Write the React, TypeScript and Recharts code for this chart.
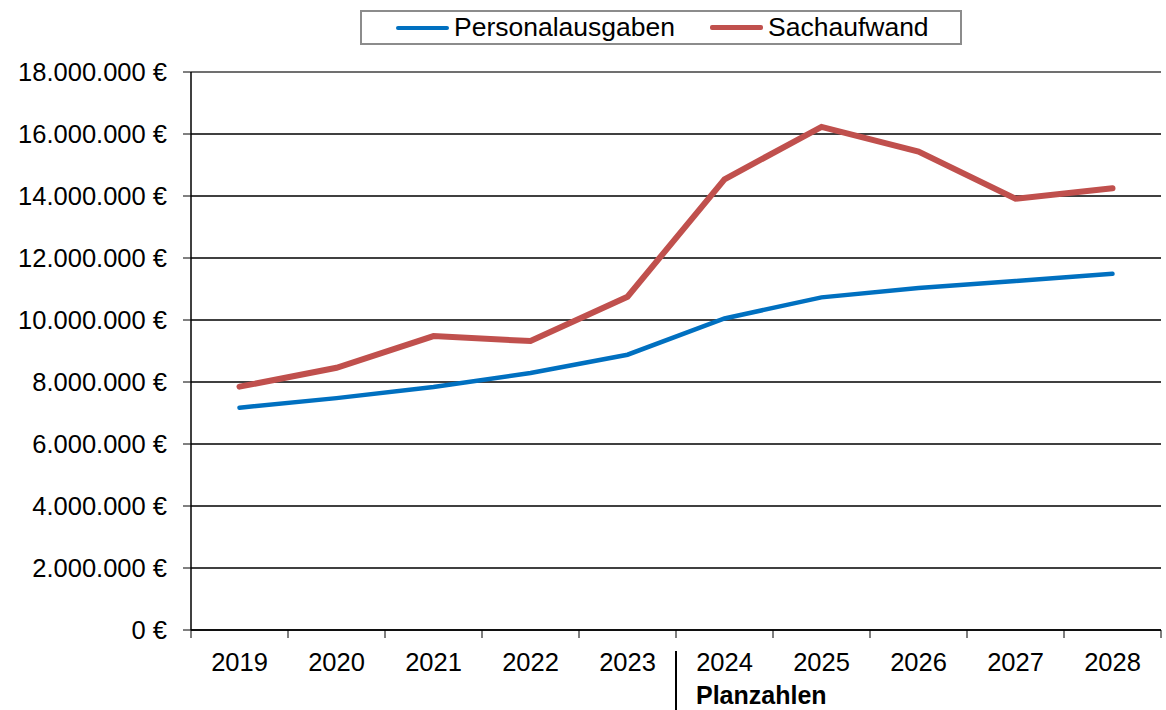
import React from 'react';
import {
  LineChart,
  Line,
  XAxis,
  YAxis,
  CartesianGrid,
  ReferenceLine,
} from 'recharts';

const YEARS = ['2019', '2020', '2021', '2022', '2023', '2024', '2025', '2026', '2027', '2028'];
const PERSONAL = [7170000, 7480000, 7840000, 8290000, 8880000, 10050000, 10730000, 11030000, 11260000, 11490000];
const SACH = [7850000, 8460000, 9480000, 9320000, 10750000, 14540000, 16230000, 15430000, 13910000, 14250000];
const Y_TICKS = [0, 2000000, 4000000, 6000000, 8000000, 10000000, 12000000, 14000000, 16000000, 18000000];
const SERIES_NAMES = ['Personalausgaben', 'Sachaufwand'];
const PLAN_START = '2024';
const PLAN_LABEL = 'Planzahlen';

const DATA = YEARS.map((year, i) => ({
  year,
  personal: PERSONAL[i],
  sach: SACH[i],
}));

const FONT = '"Liberation Sans", Arial, sans-serif';
const BLUE = '#0070C0';
const RED = '#C0504D';
const STEP = 97; // width of one category band in px

const fmtEuro = (v: number) =>
  `${String(v).replace(/\B(?=(\d{3})+(?!\d))/g, '.')} €`;

const XTick = (props: any) => {
  const { x, y, payload, index } = props;
  const half = STEP / 2;
  const isLast = index === YEARS.length - 1;
  return (
    <g>
      <line x1={x - half} y1={y} x2={x - half} y2={y + 8} stroke="#000" />
      {isLast && <line x1={x + half} y1={y} x2={x + half} y2={y + 8} stroke="#000" />}
      <text
        x={x}
        y={y + 41}
        textAnchor="middle"
        fontSize={25.5}
        fontFamily={FONT}
        fill="#000"
      >
        {payload.value}
      </text>
      {payload.value === PLAN_START && (
        <>
          <line
            x1={x - half}
            y1={y + 21}
            x2={x - half}
            y2={y + 82}
            stroke="#000"
            strokeWidth={2}
          />
          <text
            x={x - half + 20}
            y={y + 74}
            fontSize={25}
            fontWeight="bold"
            fontFamily={FONT}
            fill="#000"
          >
            {PLAN_LABEL}
          </text>
        </>
      )}
    </g>
  );
};

function LegendBox() {
  const items = [
    { name: SERIES_NAMES[0], color: BLUE, w: 4 },
    { name: SERIES_NAMES[1], color: RED, w: 5 },
  ];
  return (
    <div
      style={{
        position: 'absolute',
        left: 360,
        top: 10,
        width: 564,
        height: 31,
        border: '2px solid #8c8c8c',
        display: 'flex',
        alignItems: 'center',
        paddingLeft: 34,
        gap: 35,
        boxSizing: 'content-box',
        fontFamily: FONT,
        fontSize: 26.5,
        color: '#000',
        background: '#fff',
      }}
    >
      {items.map((it) => (
        <span key={it.name} style={{ display: 'flex', alignItems: 'center' }}>
          <span
            style={{
              display: 'inline-block',
              width: 53,
              height: it.w,
              borderRadius: 2,
              background: it.color,
              marginRight: 5,
            }}
          />
          {it.name}
        </span>
      ))}
    </div>
  );
}

export default function App() {
  return (
    <div
      style={{
        position: 'absolute',
        left: 0,
        top: 0,
        width: 1166,
        height: 710,
        background: '#fff',
        overflow: 'hidden',
      }}
    >
      <LineChart
        width={1166}
        height={710}
        data={DATA}
        margin={{ top: 72, right: 5, left: 0, bottom: 0 }}
      >
        <CartesianGrid vertical={false} stroke="#000" strokeWidth={1.5} strokeOpacity={1} />
        <XAxis
          dataKey="year"
          interval={0}
          height={80}
          padding={{ left: STEP / 2, right: STEP / 2 }}
          axisLine={{ stroke: '#000', strokeWidth: 1.5 }}
          tickLine={false}
          tickSize={0}
          tickMargin={0}
          tick={<XTick />}
        />
        <YAxis
          width={191}
          domain={[0, 18000000]}
          ticks={Y_TICKS}
          interval={0}
          tickFormatter={fmtEuro}
          axisLine={{ stroke: '#000', strokeWidth: 1.5 }}
          tickLine={{ stroke: '#000' }}
          tickSize={8}
          tickMargin={16}
          tick={{ fontSize: 25.5, fill: '#000', fontFamily: FONT }}
        />
        <ReferenceLine y={18000000} stroke="#808080" strokeWidth={1.5} />
        <Line
          dataKey="personal"
          name={SERIES_NAMES[0]}
          type="linear"
          stroke={BLUE}
          strokeWidth={4.5}
          strokeLinecap="round"
          dot={false}
          activeDot={false}
          isAnimationActive={false}
        />
        <Line
          dataKey="sach"
          name={SERIES_NAMES[1]}
          type="linear"
          stroke={RED}
          strokeWidth={6}
          strokeLinecap="round"
          dot={false}
          activeDot={false}
          isAnimationActive={false}
        />
      </LineChart>
      <LegendBox />
    </div>
  );
}
